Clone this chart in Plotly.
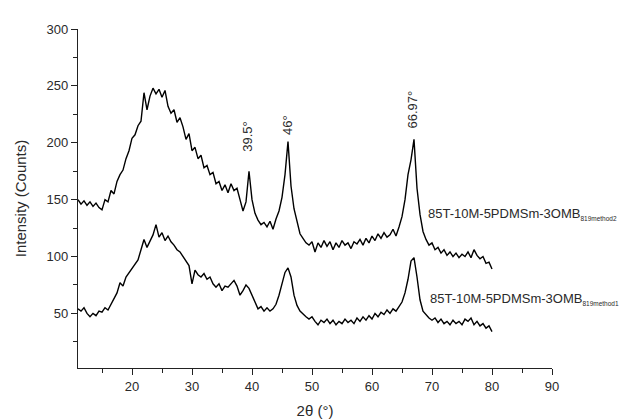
import plotly.graph_objects as go

# 2-theta scan grid: 11.0 .. 80.0 degrees, step 0.5
start_2theta = 11.0
step_2theta = 0.5

method2_counts = [
    150, 146, 149, 145, 148, 144, 147, 143, 141, 150,   # 11.0-15.5
    148, 158, 155, 166, 172, 176, 186, 193, 204, 207,   # 16.0-20.5
    215, 219, 244, 229, 241, 248, 243, 247, 240, 246,   # 21.0-25.5
    232, 226, 229, 218, 222, 214, 203, 208, 193, 196,   # 26.0-30.5
    186, 189, 178, 180, 172, 174, 164, 166, 158, 163,   # 31.0-35.5
    156, 164, 158, 160, 150, 140, 148, 175, 150, 138,   # 36.0-40.5
    132, 128, 130, 126, 131, 124, 133, 140, 152, 172,   # 41.0-45.5
    201, 162, 142, 130, 120, 116, 112, 110, 113, 104,   # 46.0-50.5
    112, 108, 114, 109, 113, 106, 112, 108, 114, 110,   # 51.0-55.5
    112, 107, 113, 111, 115, 110, 116, 112, 118, 114,   # 56.0-60.5
    120, 116, 121, 117, 119, 124, 118, 126, 135, 150,   # 61.0-65.5
    172, 185, 203, 160, 137, 122, 115, 110, 112, 106,   # 66.0-70.5
    108, 103, 106, 101, 104, 100, 103, 99, 102, 100,    # 71.0-75.5
    104, 99, 106, 101, 98, 100, 94, 95, 89,             # 76.0-80.0
]

method1_counts = [
    54, 52, 55, 50, 47, 50, 48, 52, 51, 55,             # 11.0-15.5
    53, 58, 62, 68, 77, 74, 82, 86, 89, 93,             # 16.0-20.5
    97, 106, 115, 108, 114, 119, 128, 117, 121, 114,    # 21.0-25.5
    118, 113, 110, 106, 104, 100, 97, 92, 76, 88,       # 26.0-30.5
    84, 82, 85, 80, 82, 76, 73, 76, 70, 74,             # 31.0-35.5
    73, 76, 79, 74, 66, 70, 75, 72, 66, 60,             # 36.0-40.5
    54, 56, 52, 55, 52, 54, 58, 66, 75, 86,             # 41.0-45.5
    90, 82, 66, 57, 52, 49, 47, 45, 47, 43,             # 46.0-50.5
    40, 44, 42, 45, 41, 44, 40, 43, 41, 45,             # 51.0-55.5
    42, 44, 41, 46, 43, 47, 44, 48, 45, 50,             # 56.0-60.5
    47, 51, 49, 53, 50, 54, 52, 56, 60, 68,             # 61.0-65.5
    80, 96, 99, 82, 62, 52, 49, 46, 44, 46,             # 66.0-70.5
    42, 45, 41, 43, 40, 44, 41, 43, 40, 45,             # 71.0-75.5
    43, 46, 40, 43, 39, 41, 37, 39, 34,                 # 76.0-80.0
]

two_theta = [round(start_2theta + step_2theta * i, 2) for i in range(len(method2_counts))]

peak_positions = [39.3, 45.9, 66.8]
peak_label_heights = [206, 216, 229]
peak_labels = ["39.5°", "46°", "66.97°"]

series_names = [
    "85T-10M-5PDMSm-3OMB<sub><span style='font-size:6.5px'>819method2</span></sub>",
    "85T-10M-5PDMSm-3OMB<sub><span style='font-size:6.5px'>819method1</span></sub>",
]
series_label_x = [69.0, 69.3]
series_label_y = [137, 63]

FONT = "Liberation Sans, Arial, sans-serif"
TXT = "#2a2a2a"

fig = go.Figure()
for ys in (method2_counts, method1_counts):
    fig.add_trace(go.Scatter(x=two_theta, y=ys, mode="lines",
                             line=dict(color="black", width=1.4),
                             showlegend=False, hoverinfo="skip"))

for xp, yp, t in zip(peak_positions, peak_label_heights, peak_labels):
    fig.add_annotation(x=xp, y=yp, xref="x", yref="y", text=t, showarrow=False,
                       textangle=-90, font=dict(size=13, color=TXT, family=FONT),
                       xanchor="center", yanchor="middle")

for xl, yl, t in zip(series_label_x, series_label_y, series_names):
    fig.add_annotation(x=xl, y=yl, xref="x", yref="y", text=t, showarrow=False,
                       font=dict(size=13, color=TXT, family=FONT),
                       xanchor="left", yanchor="middle")

axis_common = dict(showline=True, linecolor="#222", linewidth=1.3, ticks="outside",
                   ticklen=6, tickwidth=1.3, tickcolor="#222", showgrid=False,
                   zeroline=False, tickfont=dict(size=13, color=TXT, family=FONT),
                   mirror=False)

fig.update_xaxes(range=[11, 90], tick0=10, dtick=10,
                 minor=dict(ticks="outside", ticklen=4, tickwidth=1.3,
                            tickcolor="#222", tick0=15, dtick=10, showgrid=False),
                 title=dict(text="2θ (°)", font=dict(size=15, color=TXT, family=FONT),
                            standoff=12),
                 **axis_common)
fig.update_yaxes(range=[2, 300], tick0=0, dtick=50,
                 minor=dict(ticks="outside", ticklen=4, tickwidth=1.3,
                            tickcolor="#222", tick0=25, dtick=50, showgrid=False),
                 title=dict(text="Intensity (Counts)",
                            font=dict(size=15, color=TXT, family=FONT), standoff=16),
                 **axis_common)

fig.update_layout(width=629, height=420, margin=dict(l=70, r=85, t=21, b=54),
                  plot_bgcolor="white", paper_bgcolor="white",
                  font=dict(family=FONT, color=TXT))

fig.write_html("out.html")
